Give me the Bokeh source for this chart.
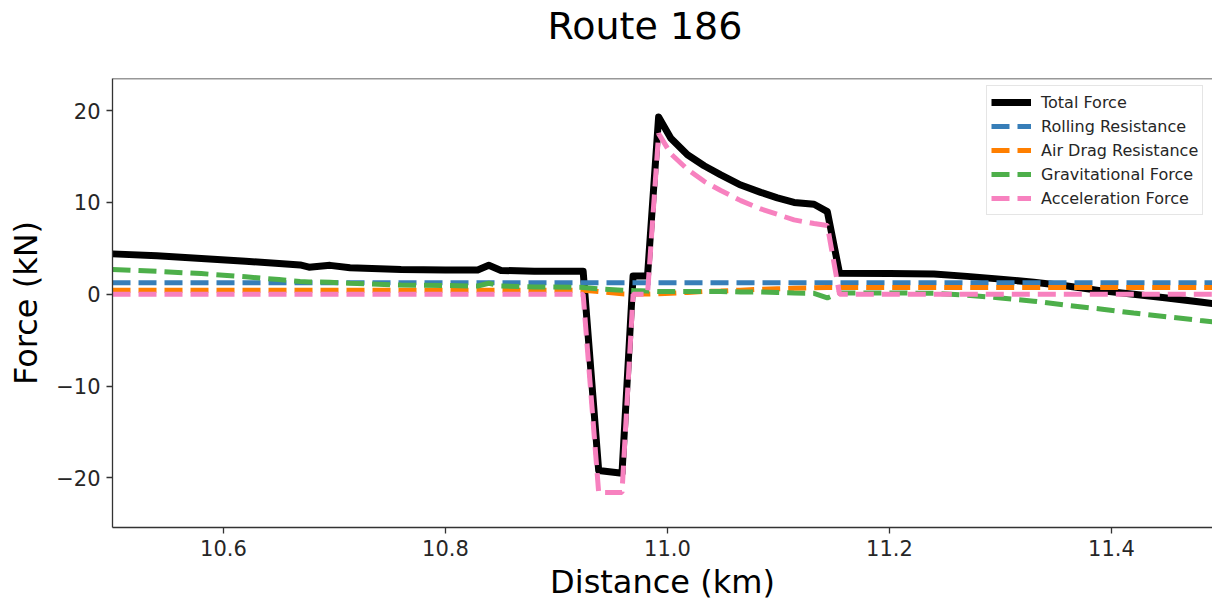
from bokeh.plotting import figure
from bokeh.models import Legend, LegendItem, Span, CustomJSTickFormatter, FixedTicker, Range1d, Title
from bokeh.embed import file_html
from bokeh.resources import INLINE

# Distance along the route (km) and the force components (kN) at each sample
distance_km = [10.500, 10.540, 10.580, 10.620, 10.650, 10.669, 10.677, 10.696, 10.714, 10.760,
               10.800, 10.829, 10.839, 10.850, 10.880, 10.924, 10.938, 10.959, 10.969, 10.982,
               10.992, 11.003, 11.018, 11.033, 11.048, 11.066, 11.084, 11.099, 11.114, 11.132,
               11.144, 11.155, 11.200, 11.240, 11.270, 11.300, 11.330, 11.360, 11.390, 11.420,
               11.450, 11.480, 11.500]

total_force = [4.40, 4.20, 3.90, 3.60, 3.35, 3.20, 2.95, 3.15, 2.90, 2.70,
               2.65, 2.65, 3.15, 2.60, 2.50, 2.50, -19.2, -19.5, 2.00, 2.00,
               19.3, 17.0, 15.2, 14.0, 13.0, 11.9, 11.1, 10.5, 10.0, 9.80,
               9.00, 2.30, 2.25, 2.20, 1.95, 1.65, 1.30, 0.90, 0.40, 0.00,
               -0.40, -0.85, -1.15]

rolling_resistance = [1.25] * 43

air_drag_resistance = [0.45, 0.45, 0.45, 0.45, 0.45, 0.45, 0.45, 0.45, 0.45, 0.45,
                       0.45, 0.45, 0.45, 0.45, 0.45, 0.45, 0.30, 0.05, 0.02, 0.02,
                       0.05, 0.10, 0.20, 0.30, 0.35, 0.45, 0.55, 0.60, 0.65, 0.70,
                       0.75, 0.75, 0.75, 0.75, 0.75, 0.75, 0.75, 0.75, 0.75, 0.75,
                       0.75, 0.75, 0.75]

gravitational_force = [2.70, 2.50, 2.25, 1.90, 1.60, 1.40, 1.35, 1.30, 1.20, 1.00,
                       0.95, 0.90, 1.20, 0.90, 0.80, 0.75, 0.60, 0.45, 0.40, 0.35,
                       0.30, 0.30, 0.30, 0.30, 0.30, 0.25, 0.25, 0.20, 0.15, 0.10,
                       -0.40, 0.15, 0.15, 0.10, -0.10, -0.40, -0.75, -1.20, -1.60, -2.05,
                       -2.45, -2.85, -3.10]

acceleration_force = [0.0, 0.0, 0.0, 0.0, 0.0, 0.0, 0.0, 0.0, 0.0, 0.0,
                      0.0, 0.0, 0.0, 0.0, 0.0, 0.0, -21.6, -21.6, 0.0, 0.0,
                      17.5, 15.3, 13.6, 12.3, 11.3, 10.2, 9.3, 8.7, 8.1, 7.7,
                      7.5, 0.0, 0.0, 0.0, 0.0, 0.0, 0.0, 0.0, 0.0, 0.0,
                      0.0, 0.0, 0.0]

x_ticks = [10.6, 10.8, 11.0, 11.2, 11.4]
y_ticks = [-20, -10, 0, 10, 20]

FONT = "DejaVu Sans"
INK = "#262626"

p = figure(width=1212, height=604, output_backend="svg", toolbar_location=None,
           x_range=Range1d(10.5, 11.491), y_range=Range1d(-25.4, 23.5),
           min_border_left=112, min_border_right=0, min_border_top=78, min_border_bottom=77)

# blank band between the frame and the heading
p.add_layout(Title(text=" ", text_font_size="1px", standoff=28), "above")

p.title.text = "Route 186"
p.title.text_font = FONT
p.title.text_font_size = "38px"
p.title.text_font_style = "normal"
p.title.text_color = "black"
p.title.align = "left"
p.title.offset = 435
p.title.vertical_align = "bottom"
p.title.standoff = 0

p.grid.visible = False
p.outline_line_color = None
p.background_fill_color = "white"
p.border_fill_color = "white"

for ax in (p.xaxis[0], p.yaxis[0]):
    ax.axis_line_color = "#333333"
    ax.axis_line_width = 1.3
    ax.major_tick_line_color = "#333333"
    ax.major_tick_line_width = 1.3
    ax.major_tick_out = 6
    ax.major_tick_in = 0
    ax.minor_tick_line_color = None
    ax.major_label_text_font = FONT
    ax.major_label_text_font_size = "21px"
    ax.major_label_text_color = INK
    ax.major_label_standoff = 6
    ax.axis_label_text_font = FONT
    ax.axis_label_text_font_size = "32px"
    ax.axis_label_text_font_style = "normal"
    ax.axis_label_text_color = "black"

p.xaxis.axis_label = "Distance (km)"
p.yaxis.axis_label = "Force (kN)"
p.xaxis.axis_label_standoff = 4
p.yaxis.axis_label_standoff = 8
p.xaxis.ticker = FixedTicker(ticks=x_ticks)
p.yaxis.ticker = FixedTicker(ticks=y_ticks)
p.xaxis.formatter = CustomJSTickFormatter(code="return tick.toFixed(1);")
p.yaxis.formatter = CustomJSTickFormatter(
    code="return (tick < 0 ? '\\u2212' : '') + Math.abs(tick).toFixed(0);")

# top edge of the axes frame
p.add_layout(Span(location=23.5, dimension="width", line_color="#333333", line_width=1.3))

DASH = "18 8"
r_total = p.line(distance_km, total_force, line_color="black", line_width=7, line_join="round")
r_roll = p.line(distance_km, rolling_resistance, line_color="#377eb8", line_width=5, line_dash=DASH)
r_air = p.line(distance_km, air_drag_resistance, line_color="#ff7f00", line_width=5, line_dash=DASH)
r_grav = p.line(distance_km, gravitational_force, line_color="#4daf4a", line_width=5, line_dash=DASH)
r_acc = p.line(distance_km, acceleration_force, line_color="#f781bf", line_width=5, line_dash=DASH)

legend = Legend(items=[
    LegendItem(label="Total Force", renderers=[r_total]),
    LegendItem(label="Rolling Resistance", renderers=[r_roll]),
    LegendItem(label="Air Drag Resistance", renderers=[r_air]),
    LegendItem(label="Gravitational Force", renderers=[r_grav]),
    LegendItem(label="Acceleration Force", renderers=[r_acc]),
], location=(874, 312))
legend.label_text_font = FONT
legend.label_text_font_size = "16px"
legend.label_text_color = INK
legend.glyph_width = 40
legend.glyph_height = 24
legend.label_height = 24
legend.label_standoff = 10
legend.spacing = 0
legend.padding = 4
legend.margin = 0
legend.border_line_color = "#cccccc"
legend.border_line_width = 1
legend.background_fill_alpha = 0.8
p.add_layout(legend)

open("out.html", "w").write(file_html(p, INLINE))
